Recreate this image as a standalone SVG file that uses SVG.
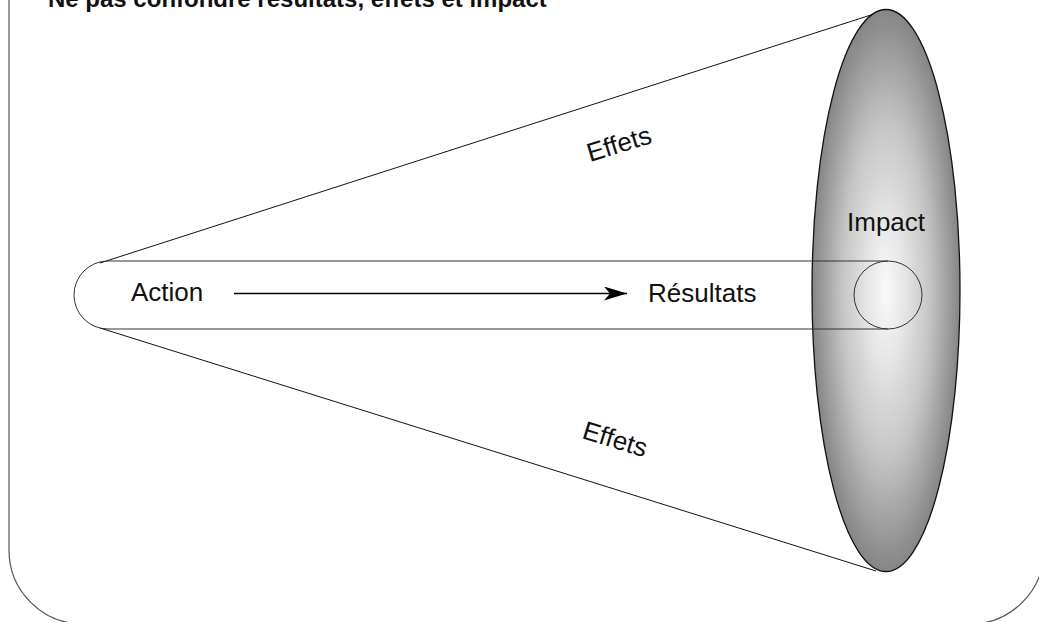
<svg xmlns="http://www.w3.org/2000/svg" width="1039" height="622" viewBox="0 0 1039 622">
<style>
.lbl{font-family:"Liberation Sans",Arial,sans-serif;font-size:26px;fill:#111}
.ttl{font-family:"Liberation Sans",Arial,sans-serif;font-size:24px;font-weight:bold;fill:#111}
.thin{fill:none;stroke:#333;stroke-width:1}
</style>
<defs>
<radialGradient id="g" cx="0.5" cy="0.5" r="0.5">
<stop offset="0" stop-color="#fafafa"/>
<stop offset="0.25" stop-color="#e6e6e6"/>
<stop offset="0.6" stop-color="#c4c4c4"/>
<stop offset="1" stop-color="#858585"/>
</radialGradient>
<marker id="ah" markerWidth="24" markerHeight="16" refX="23" refY="7" orient="auto" markerUnits="userSpaceOnUse">
<path d="M0,0 L23,7 L0,14 L6,7 Z" fill="#000"/>
</marker>
</defs>
<rect width="1039" height="622" fill="#fff"/>
<g id="frame">
<path d="M9,-10 V550 A74,74 0 0 0 83,624 H970 A74,74 0 0 0 1044,550 V-10" fill="none" stroke="#555" stroke-width="1.2"/>
</g>
<text class="ttl" x="48" y="7">Ne pas confondre résultats, effets et impact</text>
<g id="connectors">
<line x1="100" y1="263" x2="874" y2="14" stroke="#111" stroke-width="1"/>
<line x1="100" y1="328" x2="876" y2="571" stroke="#111" stroke-width="1"/>
</g>
<g id="impact-ellipse">
<ellipse cx="886" cy="290.5" rx="74" ry="281" fill="url(#g)" stroke="#111" stroke-width="1.3"/>
</g>
<g id="action-capsule">
<path d="M888,261 H108 A34,34 0 0 0 108,329 H888" class="thin"/>
</g>
<g id="result-circle">
<circle cx="888" cy="295" r="34" class="thin"/>
</g>
<g id="arrow">
<line x1="234" y1="293.5" x2="627" y2="293.5" stroke="#000" stroke-width="1.3" marker-end="url(#ah)"/>
</g>
<g id="action"><text class="lbl" x="131" y="301">Action</text></g>
<g id="resultats"><text class="lbl" x="648" y="301.5">Résultats</text></g>
<g id="impact"><text class="lbl" x="847" y="231">Impact</text></g>
<g id="effets-top"><text class="lbl" x="590" y="162" transform="rotate(-17 590 162)">Effets</text></g>
<g id="effets-bottom"><text class="lbl" x="581" y="438" transform="rotate(17 581 438)">Effets</text></g>
</svg>
